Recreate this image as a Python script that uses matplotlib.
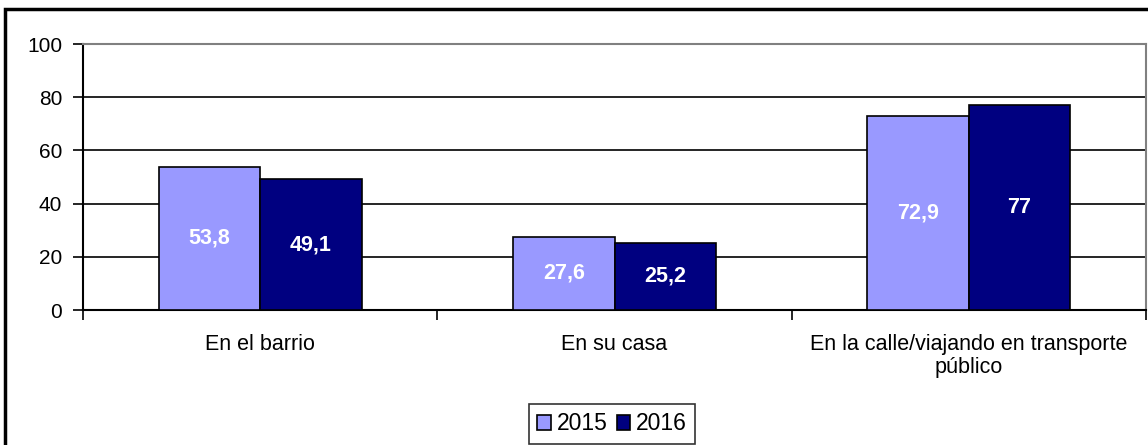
import matplotlib
matplotlib.use("Agg")
import matplotlib.pyplot as plt
from matplotlib.patches import Rectangle
import numpy as np

plt.rcParams['font.family'] = ['Liberation Sans', 'DejaVu Sans']

categories = ["En el barrio", "En su casa", "En la calle/viajando en transporte\npúblico"]
series_names = ["2015", "2016"]
values_2015 = [53.8, 27.6, 72.9]
values_2016 = [49.1, 25.2, 77]
labels_2015 = ["53,8", "27,6", "72,9"]
labels_2016 = ["49,1", "25,2", "77"]
colors = ["#9999ff", "#000080"]

W, H = 1148, 445
fig = plt.figure(figsize=(W / 100, H / 100), dpi=100)
ax = fig.add_axes([83 / W, 1 - 310 / H, (1146 - 83) / W, (310 - 44) / H])

x = np.arange(len(categories))
bw = 0.286
b1 = ax.bar(x - bw / 2, values_2015, bw, color=colors[0], edgecolor="black", linewidth=1.2, label=series_names[0], zorder=3)
b2 = ax.bar(x + bw / 2, values_2016, bw, color=colors[1], edgecolor="black", linewidth=1.2, label=series_names[1], zorder=3)

for bars, labs in ((b1, labels_2015), (b2, labels_2016)):
    for rect, lab in zip(bars, labs):
        ax.text(rect.get_x() + rect.get_width() / 2, rect.get_height() / 2, lab,
                ha="center", va="center", color="white", fontsize=15.5, fontweight="bold", zorder=4)

ax.set_xlim(-0.5, len(categories) - 0.5)
ax.set_ylim(0, 100)
ax.set_yticks([0, 20, 40, 60, 80, 100])
ax.set_yticklabels(["0", "20", "40", "60", "80", "100"], fontsize=15)
ax.yaxis.grid(True, color="black", linewidth=1.2, zorder=0)
ax.set_axisbelow(True)

ax.set_xticks(np.arange(len(categories) + 1) - 0.5)
ax.set_xticklabels([])
ax.set_xticks(x, minor=True)
ax.set_xticklabels(categories, minor=True, fontsize=15.5, linespacing=1.15)
ax.tick_params(axis="x", which="minor", length=0, pad=17)
ax.tick_params(axis="x", which="major", length=7, width=1.2, direction="out")
ax.tick_params(axis="y", length=7, width=1.2, direction="out", pad=8)

for s in ("top", "right"):
    ax.spines[s].set_color("#808080")
    ax.spines[s].set_linewidth(1.5)
for s in ("left", "bottom"):
    ax.spines[s].set_color("black")
    ax.spines[s].set_linewidth(1.5)

leg = fig.legend(loc="center", bbox_to_anchor=(612 / W, 1 - 424 / H), ncol=2, fontsize=16.5,
                 frameon=True, fancybox=False, edgecolor="black", handlelength=0.6, handleheight=0.6,
                 handletextpad=0.25, columnspacing=0.4, borderpad=0.35)
leg.get_frame().set_linewidth(1.2)

# outer chart frame
fig.add_artist(Rectangle((5 / W, -0.05), 1.2, 1 - 8.5 / H + 0.05, transform=fig.transFigure,
                         fill=False, edgecolor="black", linewidth=2.5))

fig.savefig("out.png", dpi=100)
